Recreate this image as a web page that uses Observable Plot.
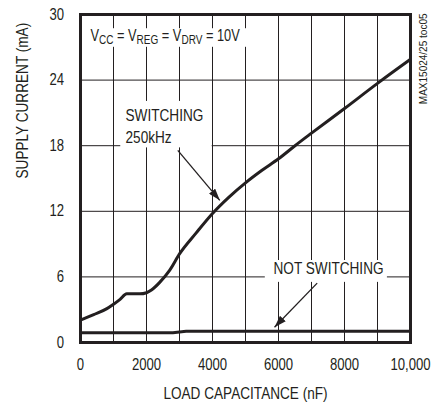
<!DOCTYPE html>
<html>
<head>
<meta charset="utf-8">
<script src="https://cdn.jsdelivr.net/npm/d3@7"></script>
<script src="https://cdn.jsdelivr.net/npm/@observablehq/plot@0.6"></script>
<style>
  html, body { margin: 0; padding: 0; background: #fff; }
  #chart svg { display: block; }
</style>
</head>
<body>
<div id="chart"></div>
<script>
// ---- data ----
const capacitance = [0, 400, 800, 1000, 1200, 1400, 1800, 2000, 2150, 2400, 2700, 3000, 3500, 4000, 4500, 5000, 5500, 6000, 6500, 7000, 8000, 9000, 10000];
const switchingCurrent = [2.05, 2.55, 3.1, 3.5, 3.95, 4.45, 4.45, 4.55, 4.8, 5.5, 6.6, 8.1, 10.0, 11.8, 13.3, 14.6, 15.75, 16.8, 18.0, 19.15, 21.4, 23.7, 25.9];
const notSwitchingCap = [0, 2800, 3200, 10000];
const notSwitchingCurrent = [0.9, 0.9, 1.02, 1.02];

const xTicks = [0, 2000, 4000, 6000, 8000, 10000];
const xTickLabels = ["0", "2000", "4000", "6000", "8000", "10,000"];
const yTicks = [0, 6, 12, 18, 24, 30];
const xGrid = [1000, 2000, 3000, 4000, 5000, 6000, 7000, 8000, 9000];
const yGrid = [6, 12, 18, 24];

const xLabel = "LOAD CAPACITANCE (nF)";
const yLabel = "SUPPLY CURRENT (mA)";
const sideNote = "MAX15024/25 toc05";
const conditionParts = [["V", false], ["CC", true], [" = V", false], ["REG", true], [" = V", false], ["DRV", true], [" = 10V", false]];

// annotation placement (data units)
const annotations = [
  {text: "SWITCHING", x: 1364, y: 20.74},
  {text: "250kHz", x: 1364, y: 18.73},
  {text: "NOT SWITCHING", x: 5848, y: 6.78}
];
const conditionPos = {x: 303, y: 28.02};
const labelBoxes = [
  {x1: 150, x2: 5400, y1: 27.0, y2: 28.7},
  {x1: 1220, x2: 3990, y1: 17.8, y2: 22.05},
  {x1: 5600, x2: 9300, y1: 5.5, y2: 7.5}
];
const arrows = [
  {x1: 2948, y1: 17.57, x2: 4221, y2: 13.0},
  {x1: 7172, y1: 5.43, x2: 5879, y2: 1.4}
];

const switching = capacitance.map((c, i) => ({c, i: switchingCurrent[i]}));
const notSwitching = notSwitchingCap.map((c, i) => ({c, i: notSwitchingCurrent[i]}));

const ink = "#231f20";
const font = "'Liberation Sans Narrow', 'Liberation Sans', Arial, sans-serif";

const chart = Plot.plot({
  width: 431,
  height: 403,
  marginLeft: 80,
  marginRight: 21,
  marginTop: 14,
  marginBottom: 61,
  style: {fontFamily: font, fontSize: "16px", color: ink, background: "#fff"},
  x: {domain: [0, 10000], ticks: xTicks, tickFormat: d => xTickLabels[xTicks.indexOf(d)], tickSize: 0, tickPadding: 16, label: null},
  y: {domain: [0, 30], ticks: yTicks, tickSize: 0, tickPadding: 16.5, label: null},
  marks: [
    Plot.ruleX(xGrid, {stroke: ink, strokeWidth: 1}),
    Plot.ruleY(yGrid, {stroke: ink, strokeWidth: 1}),
    Plot.rect(labelBoxes, {x1: "x1", x2: "x2", y1: "y1", y2: "y2", fill: "#fff"}),
    Plot.line(switching, {x: "c", y: "i", stroke: ink, strokeWidth: 3, curve: "monotone-x"}),
    Plot.line(notSwitching, {x: "c", y: "i", stroke: ink, strokeWidth: 3}),
    Plot.link(arrows, {x1: "x1", y1: "y1", x2: "x2", y2: "y2", stroke: ink, strokeWidth: 1.3, ariaDescription: "annotation-arrow"}),
    Plot.frame({stroke: ink, strokeWidth: 3}),
    Plot.text(annotations, {x: "x", y: "y", text: "text", textAnchor: "start", lineAnchor: "middle", fontSize: 17, fill: ink}),
    Plot.text([conditionPos], {x: "x", y: "y", text: () => conditionParts.map(p => p[0]).join(""), textAnchor: "start", lineAnchor: "middle", fontSize: 16, fill: ink, ariaDescription: "condition-label"}),
    Plot.text([xLabel], {frameAnchor: "bottom", lineAnchor: "middle", dy: 50.7, fontSize: 17, fill: ink}),
    Plot.text([yLabel], {frameAnchor: "left", lineAnchor: "middle", dx: -58.3, rotate: -90, fontSize: 17, fill: ink}),
    Plot.text([sideNote], {frameAnchor: "top-right", lineAnchor: "middle", dx: 12.5, dy: -1, rotate: -90, textAnchor: "end", fontSize: 11.5, fill: ink, ariaDescription: "side-note"})
  ]
});

document.getElementById("chart").appendChild(chart);

const svg = d3.select(chart);

// filled arrowheads
const defs = svg.insert("defs", ":first-child");
defs.append("marker")
  .attr("id", "filled-arrow")
  .attr("viewBox", "0 0 12 8")
  .attr("refX", 12).attr("refY", 4)
  .attr("markerWidth", 12).attr("markerHeight", 8)
  .attr("markerUnits", "userSpaceOnUse")
  .attr("orient", "auto")
  .append("path").attr("d", "M0,0L12,4L0,8Z").attr("fill", ink);
svg.selectAll('g[aria-description="annotation-arrow"] path, g[aria-description="annotation-arrow"] line')
  .attr("marker-end", "url(#filled-arrow)");

// subscripts in the condition label
svg.selectAll('g[aria-description="condition-label"] text').each(function() {
  const t = d3.select(this);
  t.text(null).style("white-space", "pre");
  let shifted = false;
  conditionParts.forEach(([s, sub]) => {
    const ts = t.append("tspan").text(s);
    if (sub && !shifted) { ts.attr("dy", "2.6").attr("font-size", 12.5); shifted = true; }
    else if (sub) { ts.attr("font-size", 12.5); }
    else if (!sub && shifted) { ts.attr("dy", "-2.6"); shifted = false; }
  });
});

// condense all texts to mimic the narrow typeface of the original
svg.selectAll("text").each(function() {
  const g = this.closest("g");
  const label = (g && (g.getAttribute("aria-label") || "")) || "";
  const desc = (g && (g.getAttribute("aria-description") || "")) || "";
  let k = 0.8;
  if (label.includes("tick")) k = 0.82;
  if (desc === "side-note") k = 0.87;
  const len = this.getComputedTextLength();
  if (len > 0) {
    this.setAttribute("textLength", (len * k).toFixed(2));
    this.setAttribute("lengthAdjust", "spacingAndGlyphs");
  }
});
</script>
</body>
</html>
